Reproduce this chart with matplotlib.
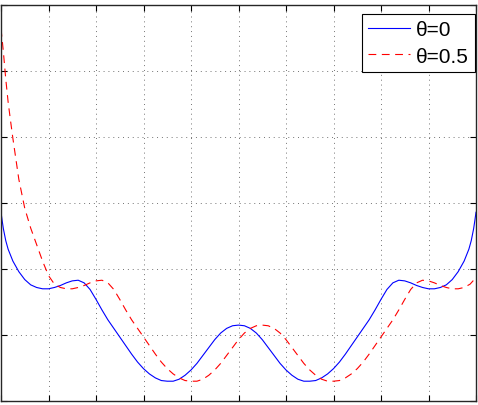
import numpy as np
import matplotlib
matplotlib.use("Agg")
import matplotlib.pyplot as plt

# values (x from 0 to 10, y from 0 to 6)
blue_x = [0, 0.025, 0.05, 0.1, 0.15, 0.25, 0.375, 0.5, 0.625, 0.75, 0.875,
          1.0, 1.125, 1.25, 1.375, 1.5, 1.625, 1.75, 1.875, 2.0, 2.125, 2.25,
          2.375, 2.5, 2.625, 2.75, 2.875, 3.0, 3.125, 3.25, 3.375, 3.5, 3.625,
          3.75, 3.875, 4.0, 4.125, 4.25, 4.375, 4.5, 4.625, 4.75, 4.875, 5.0,
          5.125, 5.25, 5.375, 5.5, 5.625, 5.75, 5.875, 6.0, 6.125, 6.25, 6.375,
          6.5, 6.625, 6.75, 6.875, 7.0, 7.125, 7.25, 7.375, 7.5, 7.625, 7.75,
          7.875, 8.0, 8.125, 8.25, 8.375, 8.5, 8.625, 8.75, 8.875, 9.0, 9.125,
          9.25, 9.375, 9.5, 9.625, 9.75, 9.85, 9.9, 9.95, 9.975, 10]
blue_y = [2.86, 2.73, 2.61, 2.43, 2.30, 2.12, 1.96, 1.84, 1.76, 1.72, 1.70,
          1.70, 1.72, 1.75, 1.79, 1.82, 1.83, 1.79, 1.69, 1.54, 1.38, 1.23,
          1.10, 0.97, 0.84, 0.71, 0.59, 0.49, 0.41, 0.35, 0.31, 0.30, 0.30,
          0.33, 0.39, 0.47, 0.57, 0.69, 0.81, 0.93, 1.03, 1.10, 1.14, 1.15,
          1.14, 1.10, 1.03, 0.93, 0.81, 0.69, 0.57, 0.47, 0.39, 0.33, 0.30,
          0.30, 0.31, 0.35, 0.41, 0.49, 0.59, 0.71, 0.84, 0.97, 1.10, 1.23,
          1.38, 1.54, 1.69, 1.79, 1.83, 1.82, 1.79, 1.75, 1.72, 1.70, 1.70,
          1.72, 1.76, 1.84, 1.96, 2.12, 2.30, 2.43, 2.61, 2.73, 2.86]

red_x = [0, 0.025, 0.05, 0.1, 0.15, 0.2, 0.25, 0.375, 0.5, 0.625, 0.75, 0.875,
         1.0, 1.125, 1.25, 1.375, 1.5, 1.625, 1.75, 1.875, 2.0, 2.125, 2.25,
         2.375, 2.5, 2.625, 2.75, 2.875, 3.0, 3.125, 3.25, 3.375, 3.5, 3.625,
         3.75, 3.875, 4.0, 4.125, 4.25, 4.375, 4.5, 4.625, 4.75, 4.875, 5.0,
         5.125, 5.25, 5.375, 5.5, 5.625, 5.75, 5.875, 6.0, 6.125, 6.25, 6.375,
         6.5, 6.625, 6.75, 6.875, 7.0, 7.125, 7.25, 7.375, 7.5, 7.625, 7.75,
         7.875, 8.0, 8.125, 8.25, 8.375, 8.5, 8.625, 8.75, 8.875, 9.0, 9.125,
         9.25, 9.375, 9.5, 9.625, 9.75, 9.875, 10]
red_y = [5.64, 5.47, 5.29, 4.88, 4.53, 4.25, 3.98, 3.36, 2.92, 2.62, 2.37, 2.12,
         1.90, 1.77, 1.72, 1.70, 1.70, 1.72, 1.75, 1.79, 1.82, 1.83, 1.79,
         1.69, 1.54, 1.38, 1.23, 1.10, 0.97, 0.84, 0.71, 0.59, 0.49, 0.41,
         0.35, 0.31, 0.30, 0.30, 0.33, 0.39, 0.47, 0.57, 0.69, 0.81, 0.93,
         1.03, 1.10, 1.14, 1.15, 1.14, 1.10, 1.03, 0.93, 0.81, 0.69, 0.57,
         0.47, 0.39, 0.33, 0.30, 0.30, 0.31, 0.35, 0.41, 0.49, 0.59, 0.71,
         0.84, 0.97, 1.10, 1.23, 1.38, 1.54, 1.69, 1.79, 1.83, 1.82, 1.79,
         1.75, 1.72, 1.70, 1.70, 1.72, 1.77, 1.87]

labels = ["\u03b8=0", "\u03b8=0.5"]

W, H = 478, 406
fig = plt.figure(figsize=(W / 100, H / 100), dpi=100)
ax = fig.add_axes([1 / W, 1 - 402 / H, 475 / W, 396 / H])

ax.plot(blue_x, blue_y, color="blue", lw=0.8, label=labels[0])
ax.plot(red_x, red_y, color="red", lw=0.8, dashes=(7, 5), label=labels[1])

ax.set_xlim(0, 10)
ax.set_ylim(0, 6)
ax.set_xticks(np.arange(0, 11, 1))
ax.set_yticks(np.arange(0, 7, 1))
ax.set_xticklabels([])
ax.set_yticklabels([])
ax.tick_params(direction="in", length=4, width=0.8, top=True, right=True)
ax.grid(True, color="0.45", linestyle=(0, (1, 4)), linewidth=0.7)
for s in ax.spines.values():
    s.set_linewidth(1.0)
    s.set_color("0.15")

leg = ax.legend(loc="upper right", bbox_to_anchor=(1 - 1 / 475, 1 - 9 / 396),
                prop={"family": "Liberation Sans", "size": 15},
                frameon=True, fancybox=False, framealpha=1, edgecolor="black",
                handlelength=2.0, handletextpad=0.3, borderpad=0.3,
                labelspacing=0.35, borderaxespad=0.0)
leg.get_frame().set_linewidth(0.8)

fig.savefig("out.png", dpi=100)
